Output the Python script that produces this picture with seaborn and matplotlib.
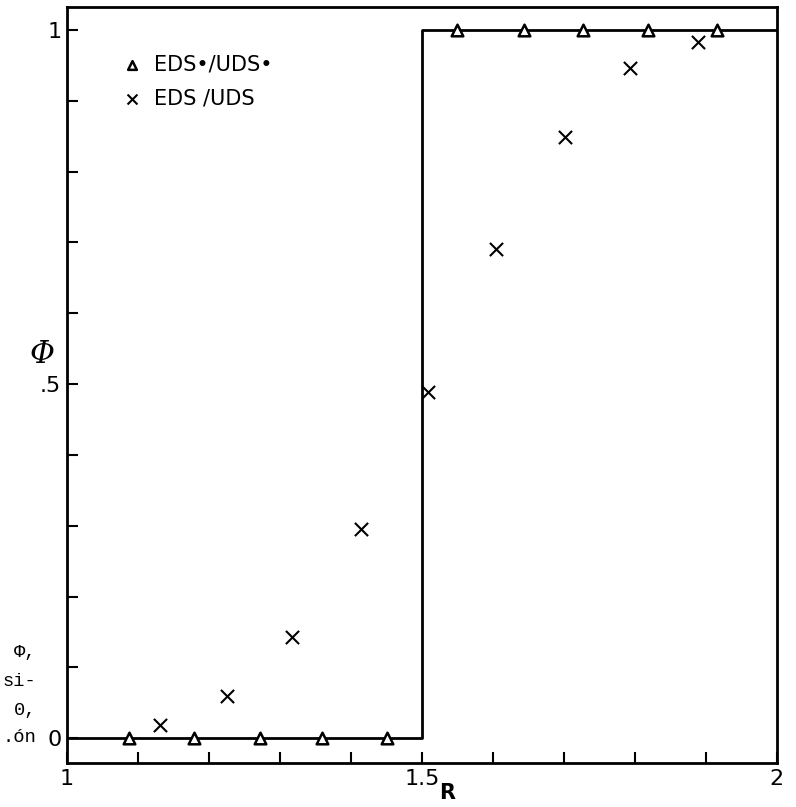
import numpy as np
import pandas as pd
import matplotlib
matplotlib.use('Agg')
import matplotlib.pyplot as plt
import seaborn as sns
from matplotlib.ticker import MultipleLocator, FixedLocator

# exact step solution
step_R = [1.0, 1.5, 1.5, 2.0]
step_phi = [0.0, 0.0, 1.0, 1.0]

# EDS*/UDS* (triangles)
tri_R = [1.087, 1.179, 1.272, 1.360, 1.451, 1.549, 1.644, 1.727, 1.818, 1.915]
tri_phi = [0.0, 0.0, 0.0, 0.0, 0.0, 1.0, 1.0, 1.0, 1.0, 1.0]

# EDS/UDS (crosses)
x_R = [1.131, 1.225, 1.317, 1.414, 1.508, 1.604, 1.701, 1.793, 1.889]
x_phi = [0.018, 0.059, 0.143, 0.295, 0.489, 0.691, 0.849, 0.946, 0.983]

sns.set_style('ticks')
plt.rcParams['font.family'] = ['DejaVu Sans']
plt.rcParams['text.color'] = 'black'
plt.rcParams['axes.labelcolor'] = 'black'
plt.rcParams['xtick.color'] = 'black'
plt.rcParams['ytick.color'] = 'black'

fig = plt.figure(figsize=(7.96, 8.07), dpi=100)
ax = fig.add_axes([0.084, 0.0545, 0.892, 0.9365])

step = pd.DataFrame({'R': step_R, 'phi': step_phi})
sns.lineplot(data=step, x='R', y='phi', sort=False, estimator=None,
             color='black', linewidth=2, ax=ax)

tri = pd.DataFrame({'R': tri_R, 'phi': tri_phi})
sns.scatterplot(data=tri, x='R', y='phi', marker='^', s=70, facecolor='white',
                edgecolor='black', linewidth=1.8, ax=ax, zorder=3,
                label='EDS\u2022/UDS\u2022')

crs = pd.DataFrame({'R': x_R, 'phi': x_phi})
sns.scatterplot(data=crs, x='R', y='phi', marker='x', s=90, color='black',
                linewidth=1.5, ax=ax, zorder=3, label='EDS /UDS')

ax.set_xlim(1, 2)
ax.set_ylim(-0.035, 1.032)

ax.xaxis.set_major_locator(FixedLocator([1, 1.5, 2]))
ax.xaxis.set_minor_locator(MultipleLocator(0.1))
ax.set_xticklabels(['1', '1.5', '2'], fontsize=16)
ax.yaxis.set_major_locator(FixedLocator([0, 0.5, 1]))
ax.yaxis.set_minor_locator(MultipleLocator(0.1))
ax.set_yticklabels(['0', '.5', '1'], fontsize=16)
ax.tick_params(which='both', direction='in', length=8, width=1.5)
ax.tick_params(axis='x', which='major', pad=4)
ax.tick_params(axis='y', which='major', pad=4)

for s in ax.spines.values():
    s.set_visible(True)
    s.set_linewidth(2)
    s.set_color('black')

ax.set_xlabel('R', fontsize=15, fontweight='bold')
ax.xaxis.set_label_coords(0.535, -0.026)
ax.set_ylabel('\u03a6', fontsize=22, style='italic', family='DejaVu Serif',
              rotation=0, va='center')
ax.yaxis.set_label_coords(-0.035, 0.54)

leg = ax.legend(loc='upper left', bbox_to_anchor=(0.05, 0.948), frameon=False,
                fontsize=15, handletextpad=0.1, labelspacing=0.65,
                borderaxespad=0, markerscale=0.75)

# cut-off caption text at the left edge of the page
caption = ['\u03a6,', 'si-', '0,', '.\u00f3n']
caption_y = [653, 682, 710, 738]
for txt, yp in zip(caption, caption_y):
    fig.text(36 / 796, 1 - yp / 807, txt, ha='right', va='center',
             fontsize=13.5, family='Liberation Mono')

fig.savefig('out.png', dpi=100)
